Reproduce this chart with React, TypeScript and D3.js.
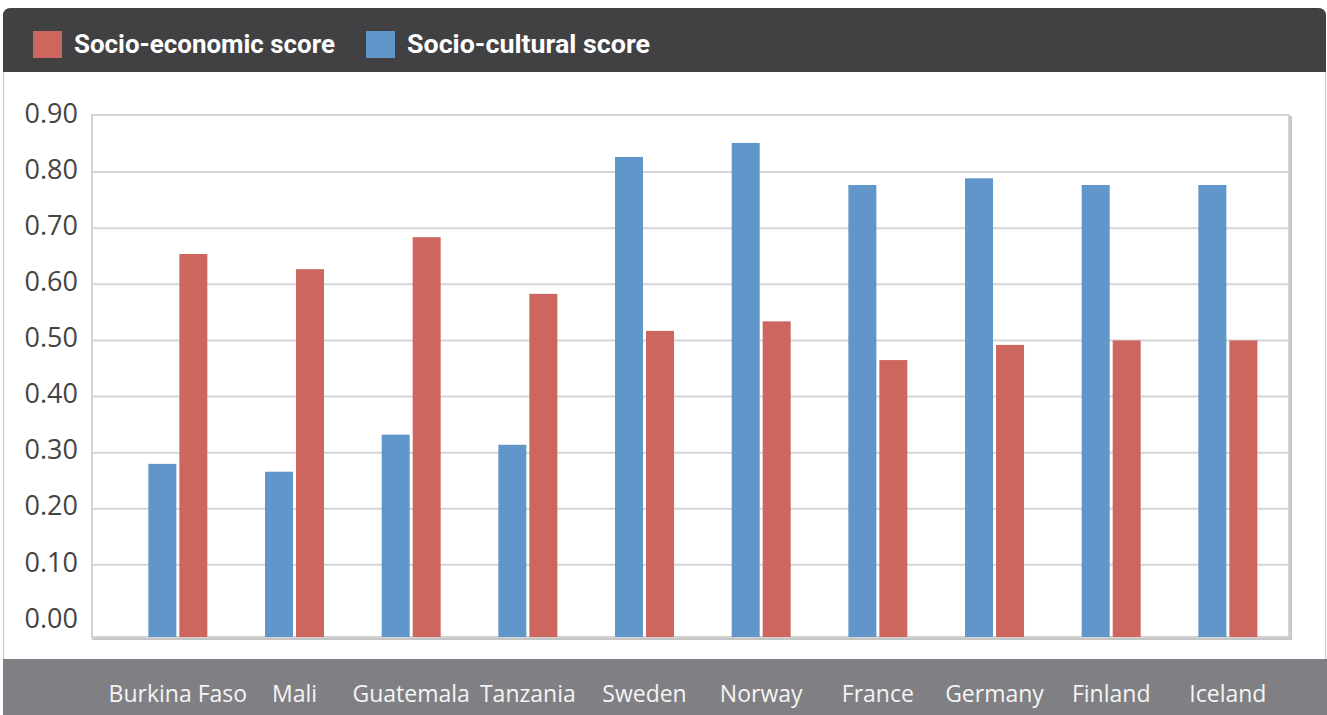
import React from "react";
import * as d3 from "d3";

const countries = ["Burkina Faso", "Mali", "Guatemala", "Tanzania", "Sweden", "Norway", "France", "Germany", "Finland", "Iceland"];
const socioCultural = [0.280, 0.266, 0.332, 0.314, 0.827, 0.852, 0.777, 0.789, 0.777, 0.777];
const socioEconomic = [0.654, 0.627, 0.684, 0.583, 0.517, 0.534, 0.465, 0.492, 0.500, 0.500];
const yTicks = [0, 0.1, 0.2, 0.3, 0.4, 0.5, 0.6, 0.7, 0.8, 0.9];
const seriesKeys = ["cultural", "economic"];
const legendItems = [
  { key: "economic", label: "Socio-economic score" },
  { key: "cultural", label: "Socio-cultural score" },
];

const W = 1327;
const H = 715;
const RED = "#cd665f";
const BLUE = "#6096c9";

export default function App() {
  const plotL = 92, plotR = 1289, plotT = 116, plotB = 637;
  const y = d3.scaleLinear().domain([-0.0286, 0.9]).range([plotB, plotT]);
  const x = d3.scaleBand<string>().domain(countries).range([119.5, 1286.2]).padding(0);
  const groupW = 59;
  const xs = d3.scaleBand<string>().domain(seriesKeys).range([0, groupW]).paddingInner(3 / 31).paddingOuter(0);
  const color = d3.scaleOrdinal<string, string>().domain(seriesKeys).range([BLUE, RED]);
  const valueOf = (k: string, i: number) => (k === "cultural" ? socioCultural[i] : socioEconomic[i]);

  const legendX = [33, 366];
  const legendW = [261, 243];

  return (
    <svg width={W} height={H} style={{ position: "absolute", left: 0, top: 0, background: "#fff" }}>
      {/* card */}
      <path d={`M3.5,715 L3.5,16 Q3.5,8.5 11,8.5 L1318,8.5 Q1325.5,8.5 1325.5,16 L1325.5,715`} fill="#fff" stroke="#c8c8c8" strokeWidth={1} />
      {/* header */}
      <path d={`M3,72 L3,16 Q3,8 11,8 L1318,8 Q1326,8 1326,16 L1326,72 Z`} fill="#414143" />
      {legendItems.map((it, i) => (
        <g key={it.key}>
          <rect x={legendX[i]} y={31} width={29} height={27} fill={color(it.key)} />
          <text
            x={legendX[i] + 41}
            y={53}
            fill="#ffffff"
            fontFamily="Roboto, 'DejaVu Sans', sans-serif"
            fontWeight={700}
            fontSize={25}
            textLength={legendW[i]}
            lengthAdjust="spacingAndGlyphs"
          >
            {it.label}
          </text>
        </g>
      ))}

      {/* bottom band */}
      <rect x={3} y={659} width={1324} height={56} fill="#808084" />

      {/* plot frame shadow */}
      <rect x={plotL + 1.5} y={plotT + 1.5} width={plotR - plotL} height={plotB - plotT} fill="none" stroke="#c6c6c6" strokeWidth={3} />
      <rect x={plotL} y={plotT - 1} width={plotR - plotL} height={plotB - plotT + 1} fill="#fff" stroke="#d2d2d2" strokeWidth={2} />

      {/* gridlines */}
      {yTicks.filter((t) => t > 0 && t < 0.9).map((t) => (
        <line key={t} x1={plotL} x2={plotR} y1={y(t)} y2={y(t)} stroke="#d5d5d5" strokeWidth={2} />
      ))}

      {/* y labels */}
      {yTicks.map((t) => (
        <text
          key={t}
          x={78}
          y={y(t) - 3}
          dy="0.36em"
          textAnchor="end"
          fill="#444"
          fontFamily="'Open Sans', sans-serif"
          fontSize={27}
        >
          {d3.format(".2f")(t)}
        </text>
      ))}

      {/* bars */}
      {countries.map((c, i) => {
        const gx = (x(c) as number) + x.bandwidth() / 2 - groupW / 2;
        return (
          <g key={c} transform={`translate(${gx},0)`}>
            {seriesKeys.map((k) => (
              <rect
                key={k}
                x={xs(k)}
                y={y(valueOf(k, i))}
                width={xs.bandwidth()}
                height={plotB - y(valueOf(k, i))}
                fill={color(k)}
              />
            ))}
          </g>
        );
      })}

      {/* x labels */}
      {countries.map((c) => (
        <text
          key={c}
          x={(x(c) as number) + x.bandwidth() / 2}
          y={702}
          textAnchor="middle"
          fill="#f4f4f4"
          fontFamily="'Open Sans', sans-serif"
          fontSize={23}
        >
          {c}
        </text>
      ))}
    </svg>
  );
}
